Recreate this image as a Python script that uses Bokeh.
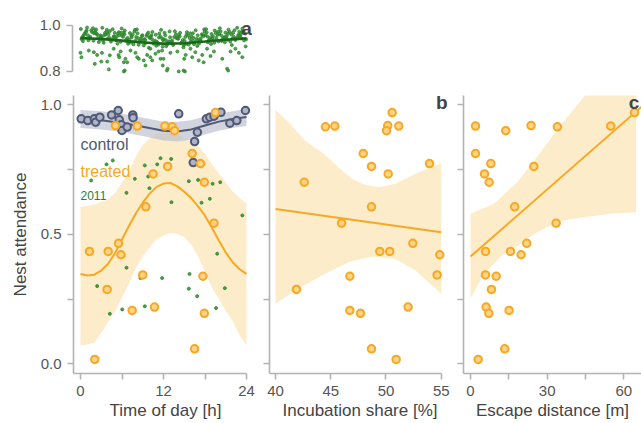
from bokeh.plotting import figure
from bokeh.layouts import column, row
from bokeh.models import FixedTicker, PrintfTickFormatter, Label, Range1d
from bokeh.embed import file_html
from bokeh.resources import INLINE

FONT = "Liberation Sans"

# ---------------- data ----------------
# panel a: 2011 season, all observations (hour, attendance)
a_band_hour = [
    0.05, 0.55, 0.25, 0.80, 0.40, 0.95, 0.15, 0.65, 0.35, 0.88,
    1.05, 1.55, 1.25, 1.80, 1.40, 1.95, 1.15, 1.65, 1.35, 1.88,
    2.05, 2.55, 2.25, 2.80, 2.40, 2.95, 2.15, 2.65, 2.35, 2.88,
    3.05, 3.55, 3.25, 3.80, 3.40, 3.95, 3.15, 3.65, 3.35, 3.88,
    4.05, 4.55, 4.25, 4.80, 4.40, 4.95, 4.15, 4.65, 4.35, 4.88,
    5.05, 5.55, 5.25, 5.80, 5.40, 5.95, 5.15, 5.65, 5.35, 5.88,
    6.05, 6.55, 6.25, 6.80, 6.40, 6.95, 6.15, 6.65, 6.35, 6.88,
    7.05, 7.55, 7.25, 7.80, 7.40, 7.95, 7.15, 7.65, 7.35, 7.88,
    8.05, 8.55, 8.25, 8.80, 8.40, 8.95, 8.15, 8.65, 8.35, 8.88,
    9.05, 9.55, 9.25, 9.80, 9.40, 9.95, 9.15, 9.65, 9.35, 9.88,
    10.05, 10.55, 10.25, 10.80, 10.40, 10.95, 10.15, 10.65, 10.35, 10.88,
    11.05, 11.55, 11.25, 11.80, 11.40, 11.95, 11.15, 11.65, 11.35, 11.88,
    12.05, 12.55, 12.25, 12.80, 12.40, 12.95, 12.15, 12.65, 12.35, 12.88,
    13.05, 13.55, 13.25, 13.80, 13.40, 13.95, 13.15, 13.65, 13.35, 13.88,
    14.05, 14.55, 14.25, 14.80, 14.40, 14.95, 14.15, 14.65, 14.35, 14.88,
    15.05, 15.55, 15.25, 15.80, 15.40, 15.95, 15.15, 15.65, 15.35, 15.88,
    16.05, 16.55, 16.25, 16.80, 16.40, 16.95, 16.15, 16.65, 16.35, 16.88,
    17.05, 17.55, 17.25, 17.80, 17.40, 17.95, 17.15, 17.65, 17.35, 17.88,
    18.05, 18.55, 18.25, 18.80, 18.40, 18.95, 18.15, 18.65, 18.35, 18.88,
    19.05, 19.55, 19.25, 19.80, 19.40, 19.95, 19.15, 19.65, 19.35, 19.88,
    20.05, 20.55, 20.25, 20.80, 20.40, 20.95, 20.15, 20.65, 20.35, 20.88,
    21.05, 21.55, 21.25, 21.80, 21.40, 21.95, 21.15, 21.65, 21.35, 21.88,
    22.05, 22.55, 22.25, 22.80, 22.40, 22.95, 22.15, 22.65, 22.35, 22.88,
    23.05, 23.55, 23.25, 23.80, 23.40, 23.95, 23.15, 23.65, 23.35, 23.88,
]
a_band_att = [
    0.985, 0.962, 0.948, 0.973, 0.955, 0.991, 0.941, 0.967, 0.932, 0.978,
    0.958, 0.979, 0.944, 0.988, 0.951, 0.966, 0.936, 0.972, 0.947, 0.934,
    0.970, 0.945, 0.983, 0.939, 0.960, 0.952, 0.976, 0.928, 0.964, 0.957,
    0.949, 0.968, 0.935, 0.981, 0.957, 0.943, 0.990, 0.961, 0.925, 0.972,
    0.962, 0.940, 0.976, 0.953, 0.930, 0.968, 0.947, 0.984, 0.938, 0.951,
    0.944, 0.971, 0.952, 0.929, 0.964, 0.987, 0.936, 0.958, 0.921, 0.968,
    0.957, 0.933, 0.969, 0.946, 0.978, 0.926, 0.951, 0.940, 0.962, 0.921,
    0.938, 0.961, 0.927, 0.974, 0.948, 0.935, 0.967, 0.918, 0.955, 0.981,
    0.950, 0.929, 0.966, 0.942, 0.916, 0.958, 0.983, 0.935, 0.945, 0.954,
    0.932, 0.955, 0.941, 0.969, 0.924, 0.948, 0.913, 0.962, 0.937, 0.903,
    0.946, 0.921, 0.958, 0.934, 0.972, 0.912, 0.951, 0.928, 0.940, 0.960,
    0.929, 0.952, 0.917, 0.943, 0.965, 0.936, 0.924, 0.981, 0.948, 0.908,
    0.940, 0.918, 0.957, 0.931, 0.910, 0.949, 0.968, 0.925, 0.936, 0.974,
    0.926, 0.950, 0.935, 0.962, 0.915, 0.944, 0.930, 0.975, 0.921, 0.947,
    0.947, 0.923, 0.959, 0.937, 0.968, 0.914, 0.942, 0.928, 0.953, 0.905,
    0.933, 0.956, 0.920, 0.945, 0.971, 0.930, 0.950, 0.917, 0.961, 0.966,
    0.952, 0.928, 0.966, 0.941, 0.919, 0.957, 0.935, 0.979, 0.946, 0.911,
    0.939, 0.962, 0.931, 0.954, 0.944, 0.973, 0.922, 0.958, 0.936, 0.983,
    0.958, 0.934, 0.970, 0.947, 0.927, 0.963, 0.984, 0.940, 0.952, 0.919,
    0.944, 0.967, 0.936, 0.959, 0.978, 0.931, 0.953, 0.946, 0.925, 0.973,
    0.963, 0.941, 0.975, 0.950, 0.933, 0.969, 0.988, 0.945, 0.957, 0.927,
    0.949, 0.972, 0.938, 0.961, 0.982, 0.943, 0.955, 0.930, 0.966, 0.915,
    0.968, 0.946, 0.979, 0.955, 0.937, 0.973, 0.951, 0.990, 0.942, 0.961,
    0.953, 0.976, 0.944, 0.965, 0.986, 0.940, 0.960, 0.935, 0.971, 0.909,
]
a_low_hour = [0.0, 0.14, 1.2, 1.93, 2.4, 3.1, 3.0, 3.86, 2.07, 4.1, 4.24, 4.8,
              5.5, 5.8, 5.6, 6.27, 6.5, 6.75, 6.4, 7.23, 7.95, 8.2, 8.43, 9.15,
              9.4, 9.64, 10.1, 10.1, 10.36, 10.84, 11.3, 11.57, 11.9, 6.27, 12.5,
              14.2, 15.1, 21.35, 11.8, 12.0, 12.6, 13.0, 14.0, 14.9, 15.2, 15.0,
              15.9, 16.15, 16.6, 17.1, 17.6, 17.8, 18.3, 18.8, 19.3, 20.5, 21.2,
              21.7, 22.4, 22.9, 23.4]
a_low_att = [0.881, 0.862, 0.891, 0.884, 0.872, 0.881, 0.843, 0.843, 0.833, 0.809,
             0.870, 0.899, 0.872, 0.887, 0.862, 0.840, 0.855, 0.840, 0.804, 0.891,
             0.881, 0.862, 0.855, 0.848, 0.826, 0.872, 0.899, 0.862, 0.848, 0.877,
             0.887, 0.855, 0.826, 0.800, 0.804, 0.800, 0.800, 0.804, 0.891, 0.855,
             0.812, 0.881, 0.887, 0.804, 0.872, 0.855, 0.899, 0.862, 0.884, 0.848,
             0.872, 0.840, 0.899, 0.867, 0.887, 0.855, 0.812, 0.887, 0.899, 0.881,
             0.862]
a_fit_hour = [0, 3, 6, 9, 12, 15, 18, 21, 24]
a_fit = [0.945, 0.941, 0.934, 0.926, 0.921, 0.923, 0.930, 0.938, 0.944]
a_fit_lower = [0.939, 0.936, 0.929, 0.921, 0.916, 0.918, 0.925, 0.933, 0.938]
a_fit_upper = [0.951, 0.946, 0.939, 0.931, 0.926, 0.928, 0.935, 0.943, 0.950]

# main panels: treated nests (shared attendance), three covariates
treated_att = [0.970, 0.920, 0.918, 0.915, 0.918, 0.900, 0.812, 0.773, 0.762, 0.733,
               0.701, 0.606, 0.543, 0.465, 0.434, 0.434, 0.421, 0.343, 0.338, 0.287,
               0.219, 0.206, 0.195, 0.058, 0.017]
treated_hour = [19.5, 5.06, 8.2, 13.25, 12.2, 13.6, 16.15, 17.35, 12.6, 10.5,
                17.9, 9.45, 19.3, 5.5, 1.3, 4.0, 5.85, 9.0, 17.7, 3.85,
                10.7, 7.47, 17.9, 16.5, 2.07]
treated_incub = [50.56, 50.16, 45.37, 44.52, 51.16, 50.05, 47.94, 53.94, 48.69, 50.20,
                 42.6, 48.69, 45.98, 52.43, 49.44, 50.34, 54.87, 54.63, 46.73, 41.9,
                 52.0, 46.73, 47.69, 48.69, 50.92]
treated_escape = [64.2, 23.7, 54.9, 34.0, 1.96, 13.8, 1.96, 7.96, 24.8, 5.48,
                  7.3, 17.3, 33.5, 22.0, 5.87, 15.65, 19.8, 5.87, 10.05, 8.2,
                  6.13, 15.1, 7.17, 13.4, 3.0]

control_hour = [0.1, 1.06, 2.0, 2.2, 2.8, 4.5, 5.45, 5.6, 5.9, 6.0, 6.75, 7.56, 7.6,
                14.2, 16.5, 16.9, 16.3, 18.2, 18.7, 19.3, 20.3, 21.6, 22.6, 23.85]
control_att = [0.946, 0.939, 0.946, 0.933, 0.952, 0.961, 0.978, 0.942, 0.923, 0.901,
               0.914, 0.961, 0.950, 0.965, 0.858, 0.894, 0.777, 0.946, 0.952, 0.956,
               0.971, 0.929, 0.939, 0.978]

y2011_hour = [4.67, 3.76, 1.54, 7.86, 9.3, 9.78, 9.97, 11.57, 11.09, 6.65, 6.65, 2.41,
              8.67, 11.8, 4.24, 6.03, 9.3, 13.1, 15.66, 17.0, 19.1, 20.2, 13.15, 17.5,
              18.7, 23.4, 19.76, 15.76, 15.66, 16.87, 20.87, 19.6]
y2011_att = [0.785, 0.770, 0.708, 0.714, 0.766, 0.723, 0.678, 0.794, 0.770, 0.660,
             0.371, 0.300, 0.331, 0.331, 0.193, 0.210, 0.222, 0.791, 0.705, 0.710,
             0.695, 0.701, 0.624, 0.622, 0.637, 0.573, 0.425, 0.347, 0.290, 0.261,
             0.292, 0.215]

# fitted curves and confidence bands
treated_fit_hour = [0, 1, 2, 3, 4, 5, 6, 7, 8, 9, 10, 11, 12, 13, 14, 15, 16, 17, 18,
                    19, 20, 21, 22, 23, 24]
treated_fit = [0.347, 0.341, 0.344, 0.360, 0.386, 0.428, 0.480, 0.532, 0.580, 0.622,
               0.657, 0.683, 0.696, 0.698, 0.685, 0.664, 0.640, 0.608, 0.572, 0.525,
               0.476, 0.430, 0.392, 0.365, 0.347]
band_hour = [0, 2, 4, 5, 6, 7, 8, 9, 10, 11, 12, 13, 14, 15, 16, 17, 18, 19, 20, 21,
             22, 23, 24]
treated_upper = [0.605, 0.615, 0.635, 0.66, 0.70, 0.74, 0.80, 0.845, 0.87, 0.885, 0.89,
                 0.89, 0.885, 0.87, 0.855, 0.84, 0.81, 0.77, 0.735, 0.70, 0.665, 0.64,
                 0.62]
treated_lower = [0.07, 0.08, 0.16, 0.205, 0.255, 0.31, 0.37, 0.415, 0.45, 0.48, 0.495,
                 0.505, 0.502, 0.49, 0.46, 0.415, 0.355, 0.295, 0.25, 0.205, 0.165,
                 0.11, 0.07]
control_fit_hour = [0, 3, 6, 9, 12, 14, 16, 18, 20, 22, 24]
control_fit = [0.945, 0.940, 0.930, 0.915, 0.900, 0.897, 0.905, 0.920, 0.935, 0.945, 0.953]
control_upper = [0.98, 0.975, 0.965, 0.95, 0.935, 0.935, 0.94, 0.955, 0.965, 0.975, 0.985]
control_lower = [0.91, 0.905, 0.895, 0.88, 0.862, 0.858, 0.865, 0.885, 0.90, 0.91, 0.918]

incub_fit_x = [40, 55]
incub_fit = [0.598, 0.508]
incub_upper_x = [40, 41.2, 42.7, 44.2, 45.7, 46.9, 48.1, 49.35, 50.86, 52.67, 55]
incub_upper = [0.981, 0.933, 0.860, 0.817, 0.759, 0.714, 0.691, 0.682, 0.695, 0.734, 0.775]
incub_lower_x = [40, 41.8, 44.2, 46.6, 48.75, 50.86, 52.67, 55]
incub_lower = [0.232, 0.283, 0.341, 0.392, 0.414, 0.405, 0.360, 0.270]

escape_fit_x = [0, 67]
escape_fit = [0.414, 0.993]
escape_upper_x = [0, 9.1, 18.3, 27.4, 35.2, 44.3, 50, 64.8]
escape_upper = [0.579, 0.618, 0.701, 0.817, 0.920, 1.03, 1.10, 1.30]
escape_lower_x = [0, 5.2, 13.0, 17.0, 20.9, 26.1, 31.3, 36.5, 44.3, 54.8, 64.8]
escape_lower = [0.251, 0.347, 0.425, 0.444, 0.476, 0.508, 0.534, 0.553, 0.566, 0.579, 0.585]

# ---------------- styling ----------------
AX = "#b3b3b3"
ORANGE = "#f7a823"
ORANGE_FILL = "#fdd488"
RIBBON = "#fdecc9"
SLATE = "#4f5876"
SLATE_FILL = "#aeb3c6"
GREEN = "#2f8a2f"


def style_axis(ax, labels=True):
    ax.axis_line_color = AX
    ax.axis_line_width = 1.6
    ax.major_tick_line_color = AX
    ax.major_tick_line_width = 1.6
    ax.minor_tick_line_color = AX
    ax.minor_tick_line_width = 1.6
    ax.major_tick_out = 6
    ax.major_tick_in = 0
    ax.minor_tick_out = 6
    ax.minor_tick_in = 0
    ax.major_label_text_font = FONT
    ax.major_label_text_font_size = "15px"
    ax.major_label_text_color = "#555555"
    ax.major_label_standoff = 6
    ax.axis_label_text_font = FONT
    ax.axis_label_text_font_size = "17px"
    ax.axis_label_text_font_style = "normal"
    ax.axis_label_text_color = "#444444"
    ax.axis_label_standoff = 2
    if not labels:
        ax.major_label_overrides = {0: "", 0.5: "", 1: ""}


def base_fig(width, height, xr, yr, mbl, mbr, mbt, mbb, **kw):
    p = figure(width=width, height=height, x_range=Range1d(*xr), y_range=Range1d(*yr),
               output_backend="svg", toolbar_location=None,
               min_border_left=mbl, min_border_right=mbr,
               min_border_top=mbt, min_border_bottom=mbb, **kw)
    p.xgrid.visible = False
    p.ygrid.visible = False
    p.outline_line_color = None
    p.background_fill_color = "white"
    p.border_fill_color = "white"
    return p


Y_RANGE = (-0.0375, 1.0359)

# separator strip at the top
strip = base_fig(641, 5, (0, 1), (0, 1), 0, 0, 1, 1,
                 x_axis_location=None, y_axis_location=None)
strip.background_fill_color = "#dcdcdc"

# panel a
pa = base_fig(252, 80, (-1.157, 24.87), (0.778, 1.0435), 72, 0, 10, 9,
              x_axis_location=None)
pa.varea(x=a_fit_hour, y1=a_fit_lower, y2=a_fit_upper, fill_color="#c8c8c8", fill_alpha=0.6)
pa.scatter(a_band_hour, a_band_att, size=3, color=GREEN, alpha=0.8)
pa.scatter(a_low_hour, a_low_att, size=3, color=GREEN, alpha=0.8)
pa.line(a_fit_hour, a_fit, line_color="#1a661a", line_width=2.6)
pa.yaxis.ticker = FixedTicker(ticks=[0.8, 1.0])
pa.yaxis.formatter = PrintfTickFormatter(format="%.1f")
pa.yaxis.bounds = (0.8, 1.0)
style_axis(pa.yaxis[0])
pa.add_layout(Label(x=24.0, y=0.987, text="a", text_font=FONT, text_font_size="19px",
                    text_font_style="bold", text_color="#444444", text_align="center",
                    text_baseline="alphabetic"))

# panel 1: time of day
p1 = base_fig(257, 338, (-1.012, 25.59), Y_RANGE, 73, 0, 10, 50)
p1.patch(band_hour + band_hour[::-1], treated_upper + treated_lower[::-1],
         fill_color=RIBBON, line_color=None)
p1.patch(control_fit_hour + control_fit_hour[::-1], control_upper + control_lower[::-1],
         fill_color="#b9bdcb", fill_alpha=0.65, line_color=None)
p1.scatter(y2011_hour, y2011_att, size=3, color=GREEN, alpha=0.85)
p1.line(treated_fit_hour, treated_fit, line_color=ORANGE, line_width=2)
p1.line(control_fit_hour, control_fit, line_color=SLATE, line_width=2)
p1.scatter(control_hour, control_att, size=7.5, fill_color=SLATE_FILL, line_color=SLATE,
           line_width=2)
p1.scatter(treated_hour, treated_att, size=7.5, fill_color=ORANGE_FILL, line_color=ORANGE,
           line_width=2)
p1.xaxis.ticker = FixedTicker(ticks=[0, 12, 24], minor_ticks=[6, 18])
p1.xaxis.bounds = (-1.012, 24)
p1.yaxis.ticker = FixedTicker(ticks=[0, 0.5, 1.0], minor_ticks=[0.25, 0.75])
p1.yaxis.formatter = PrintfTickFormatter(format="%.1f")
p1.xaxis.axis_label = "Time of day [h]"
p1.yaxis.axis_label = "Nest attendance"
style_axis(p1.xaxis[0])
style_axis(p1.yaxis[0])
p1.yaxis.axis_label_standoff = 8
for txt, yy, col, fs in [("control", 0.847, SLATE, "16px"),
                         ("treated", 0.744, ORANGE, "16px"),
                         ("2011", 0.650, "#2e7d32", "12px")]:
    p1.add_layout(Label(x=0.0, y=yy, text=txt, text_font=FONT, text_font_size=fs,
                        text_color=col, text_baseline="middle", text_align="left"))

# panel b: incubation share
p2 = base_fig(193, 338, (39.457, 55.84), Y_RANGE, 12, 0, 10, 50)
p2.patch(incub_upper_x + incub_lower_x[::-1], incub_upper + incub_lower[::-1],
         fill_color=RIBBON, line_color=None)
p2.line(incub_fit_x, incub_fit, line_color=ORANGE, line_width=2)
p2.scatter(treated_incub, treated_att, size=7.5, fill_color=ORANGE_FILL, line_color=ORANGE,
           line_width=2)
p2.xaxis.ticker = FixedTicker(ticks=[40, 45, 50, 55])
p2.xaxis.bounds = (39.457, 55)
p2.yaxis.ticker = FixedTicker(ticks=[0, 0.5, 1.0], minor_ticks=[0.25, 0.75])
p2.xaxis.axis_label = "Incubation share [%]"
style_axis(p2.xaxis[0])
style_axis(p2.yaxis[0], labels=False)
p2.add_layout(Label(x=55.05, y=1.010, text="b", text_font=FONT, text_font_size="19px",
                    text_font_style="bold", text_color="#444444", text_align="center",
                    text_baseline="alphabetic"))

# panel c: escape distance
p3 = base_fig(191, 338, (-2.739, 66.91), Y_RANGE, 13, 0, 10, 50)
p3.patch(escape_upper_x + escape_lower_x[::-1], escape_upper + escape_lower[::-1],
         fill_color=RIBBON, line_color=None)
p3.line(escape_fit_x, escape_fit, line_color=ORANGE, line_width=2)
p3.scatter(treated_escape, treated_att, size=7.5, fill_color=ORANGE_FILL, line_color=ORANGE,
           line_width=2)
p3.xaxis.ticker = FixedTicker(ticks=[0, 30, 60], minor_ticks=[15, 45])
p3.yaxis.ticker = FixedTicker(ticks=[0, 0.5, 1.0], minor_ticks=[0.25, 0.75])
p3.xaxis.axis_label = "Escape distance [m]"
style_axis(p3.xaxis[0])
style_axis(p3.yaxis[0], labels=False)
p3.add_layout(Label(x=64.0, y=1.010, text="c", text_font=FONT, text_font_size="19px",
                    text_font_style="bold", text_color="#444444", text_align="center",
                    text_baseline="alphabetic"))

layout = column(strip, pa, row(p1, p2, p3))
open("out.html", "w").write(file_html(layout, INLINE))
